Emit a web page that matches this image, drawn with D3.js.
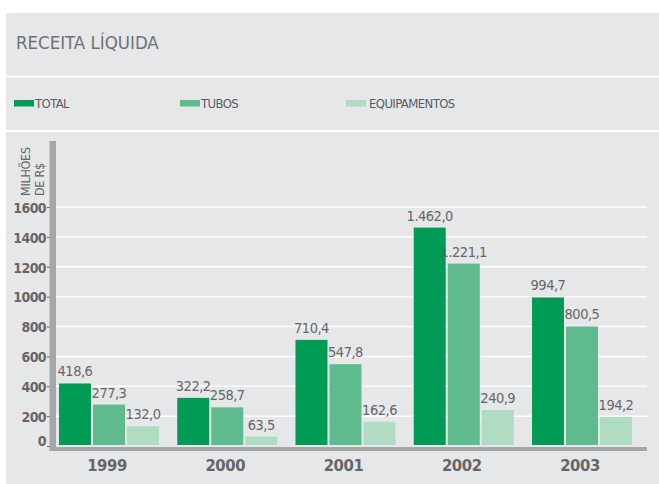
<!DOCTYPE html>
<html>
<head>
<meta charset="utf-8">
<script src="https://cdn.jsdelivr.net/npm/d3@7"></script>
<style>
	body { margin: 0; background: #fff; }
	text { font-family: "DejaVu Sans Condensed", "Liberation Sans Narrow", sans-serif; fill: #666; }
</style>
</head>
<body>
<svg id="chart" width="659" height="484"></svg>
<script>
// dados (milhões de R$)
var years = ['1999', '2000', '2001', '2002', '2003'];
var series = ['TOTAL', 'TUBOS', 'EQUIPAMENTOS'];
var total = [418.6, 322.2, 710.4, 1462.0, 994.7];
var tubos = [277.3, 258.7, 547.8, 1221.1, 800.5];
var equipamentos = [132.0, 63.5, 162.6, 240.9, 194.2];
var yTicks = [0, 200, 400, 600, 800, 1000, 1200, 1400, 1600];

var colors = ['#009c55', '#5fbb8e', '#b0dcc4'];
var values = [total, tubos, equipamentos];

var br = d3.formatLocale({decimal: ',', thousands: '.', grouping: [3], currency: ['R$', '']});
var fmt = br.format(',.1f');

var svg = d3.select('#chart');

// painel cinza
svg.append('rect').attr('x', 6).attr('y', 13).attr('width', 653).attr('height', 471).attr('fill', '#e6e7e9');
svg.append('rect').attr('x', 6).attr('y', 75.5).attr('width', 653).attr('height', 2).attr('fill', '#fff');
svg.append('rect').attr('x', 6).attr('y', 130).attr('width', 653).attr('height', 2).attr('fill', '#fff');

svg.append('text').attr('x', 16).attr('y', 49)
	.style('font-size', '18.5px').style('fill', '#707173')
	.text('RECEITA LÍQUIDA');

// legenda
var legendX = [14, 180, 346];
var legend = svg.selectAll('g.legend').data(series).enter().append('g')
	.attr('class', 'legend')
	.attr('transform', function(d, i) { return 'translate(' + legendX[i] + ',0)'; });
legend.append('rect').attr('x', 0).attr('y', 100).attr('width', 20).attr('height', 6.5)
	.attr('fill', function(d, i) { return colors[i]; });
legend.append('text').attr('x', function(d, i) { return i == 2 ? 23 : 21; }).attr('y', 107.5)
	.style('font-size', '13px').style('letter-spacing', '-0.6px').style('fill', '#5a5b5d')
	.text(function(d) { return d; });

// escalas
var y = d3.scaleLinear().domain([0, 1600]).range([446, 207]);
var x0 = d3.scaleBand().domain(years).range([50, 641]).paddingInner(0.154).paddingOuter(0.076);
var x1 = d3.scaleBand().domain(d3.range(3)).range([0, x0.bandwidth()]).paddingInner(0.06);

// linhas de grade
svg.selectAll('line.grid').data(yTicks.slice(1)).enter().append('line')
	.attr('class', 'grid')
	.attr('x1', 56).attr('x2', 647)
	.attr('y1', function(d) { return y(d); }).attr('y2', function(d) { return y(d); })
	.attr('stroke', '#fff').attr('stroke-width', 1.5);

// eixo y
var yAxis = svg.append('g').attr('transform', 'translate(50,0)')
	.call(d3.axisLeft(y).tickValues(yTicks).tickFormat(d3.format('d')).tickSize(3).tickPadding(1));
yAxis.select('.domain').remove();
yAxis.selectAll('.tick line').attr('stroke', '#666');
yAxis.selectAll('.tick text')
	.style('font-family', '"DejaVu Sans Condensed", sans-serif')
	.style('font-size', '14px').style('font-weight', 'bold').style('letter-spacing', '-0.6px').style('fill', '#666')
	.attr('dy', function(d) { return d == 0 ? '-0.05em' : '0.38em'; });

svg.append('rect').attr('x', 49.5).attr('y', 141).attr('width', 6.5).attr('height', 310).attr('fill', '#a6a7a9');

// título do eixo
svg.append('text').attr('transform', 'translate(30,196) rotate(-90)')
	.style('font-size', '12.5px').style('letter-spacing', '-0.3px').text('MILHÕES');
svg.append('text').attr('transform', 'translate(44,196) rotate(-90)')
	.style('font-size', '12.5px').style('letter-spacing', '-0.3px').text('DE R$');

// barras
var groups = svg.selectAll('g.year').data(years).enter().append('g')
	.attr('class', 'year')
	.attr('transform', function(d) { return 'translate(' + x0(d) + ',0)'; });

groups.selectAll('rect').data(function(d, j) { return values.map(function(v, i) { return {i: i, v: v[j]}; }); })
	.enter().append('rect')
	.attr('x', function(d) { return x1(d.i); })
	.attr('width', x1.bandwidth())
	.attr('y', function(d) { return y(d.v); })
	.attr('height', function(d) { return y(0) - 1 - y(d.v); })
	.attr('fill', function(d) { return colors[d.i]; });

groups.selectAll('text.val').data(function(d, j) { return values.map(function(v, i) { return {i: i, v: v[j]}; }); })
	.enter().append('text')
	.attr('class', 'val')
	.attr('x', function(d) { return x1(d.i) + x1.bandwidth() / 2; })
	.attr('y', function(d) { return y(d.v) - 7; })
	.attr('text-anchor', 'middle')
	.style('font-size', '14.5px').style('letter-spacing', '-0.5px')
	.text(function(d) { return fmt(d.v); });

// eixo x
svg.append('rect').attr('x', 50).attr('y', 447).attr('width', 597).attr('height', 4).attr('fill', '#a6a7a9');
svg.selectAll('text.yr').data(years).enter().append('text')
	.attr('class', 'yr')
	.attr('x', function(d) { return x0(d) + x0.bandwidth() / 2 - 2; })
	.attr('y', 471)
	.attr('text-anchor', 'middle')
	.style('font-size', '16.5px').style('font-weight', 'bold').style('letter-spacing', '-0.4px')
	.text(function(d) { return d; });
</script>
</body>
</html>
